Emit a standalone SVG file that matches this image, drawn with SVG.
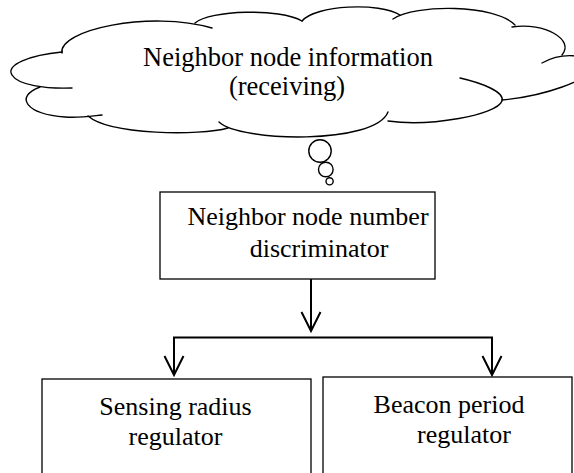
<svg xmlns="http://www.w3.org/2000/svg" width="574" height="473" viewBox="0 0 574 473">
  <style>
    .outline { fill: none; stroke: #000; stroke-width: 1.4; stroke-linecap: round; }
    .box { fill: #fff; stroke: #000; stroke-width: 1.3; }
    .conn { fill: none; stroke: #000; stroke-width: 2; }
    .label { font-family: "Liberation Serif", "Times New Roman", serif; font-size: 26px; fill: #000; text-anchor: middle; }
    .cloud-label { font-family: "Liberation Serif", "Times New Roman", serif; font-size: 26.5px; fill: #000; text-anchor: middle; }
  </style>
  <rect width="574" height="473" fill="#fff"/>

  <!-- thought cloud: info received from neighbour nodes -->
  <g id="neighbor-info">
    <!-- lobes, drawn one by one; each one overshoots a little past its cusp -->
    <path class="outline" d="M62,53 C58,30 150,10 212,28"/>
    <path class="outline" d="M195,23 C210,10 280,8 302,21"/>
    <path class="outline" d="M302,21 C315,5 380,2 400,15"/>
    <path class="outline" d="M393,19 C415,4 495,4 515,25"/>
    <path class="outline" d="M512,27 C545,22 575,40 562,55"/>
    <path class="outline" d="M542,63 C560,53 590,52 590,68 C590,80 545,96 502,100"/>
    <path class="outline" d="M460,78 C482,83 505,92 502,101 C497,115 430,127 388,121"/>
    <path class="outline" d="M388,112 C375,145 240,142 219,122"/>
    <path class="outline" d="M228,128 C200,136 110,135 88,116"/>
    <path class="outline" d="M40,87 C14,97 26,114 65,117 C80,118 92,116 102,115"/>
    <path class="outline" d="M62,52 C30,55 5,65 12,75 C18,85 45,89 72,88"/>
    <text class="cloud-label" x="288" y="66">Neighbor node information</text>
    <text class="cloud-label" x="287" y="95">(receiving)</text>
    <!-- trailing bubbles -->
    <circle class="outline" cx="320" cy="151" r="11.2"/>
    <circle class="outline" cx="325.8" cy="169.5" r="7.3"/>
    <circle class="outline" cx="329.6" cy="181.3" r="3.6"/>
  </g>

  <g id="discriminator">
    <rect class="box" x="160" y="192" width="275" height="87"/>
    <text class="label" x="308" y="225">Neighbor node number</text>
    <text class="label" x="319" y="257">discriminator</text>
  </g>

  <g id="sensing-radius">
    <rect class="box" x="42" y="379" width="269" height="110"/>
    <text class="label" x="175.5" y="415">Sensing radius</text>
    <text class="label" x="175.5" y="445">regulator</text>
  </g>

  <g id="beacon-period">
    <rect class="box" x="323" y="377" width="249" height="110"/>
    <text class="label" x="449" y="413">Beacon period</text>
    <text class="label" x="464" y="443">regulator</text>
  </g>

  <g id="connectors">
    <!-- discriminator down to the splitter -->
    <path class="conn" d="M311,279 V331"/>
    <path class="conn" d="M301.5,312 L311,331 L320.5,312"/>
    <!-- splitter -->
    <path class="conn" d="M174,375 V337.5 H492 V375"/>
    <path class="conn" d="M164.5,356 L174,375 L183.5,356"/>
    <path class="conn" d="M482.5,356 L492,375 L501.5,356"/>
  </g>
</svg>
